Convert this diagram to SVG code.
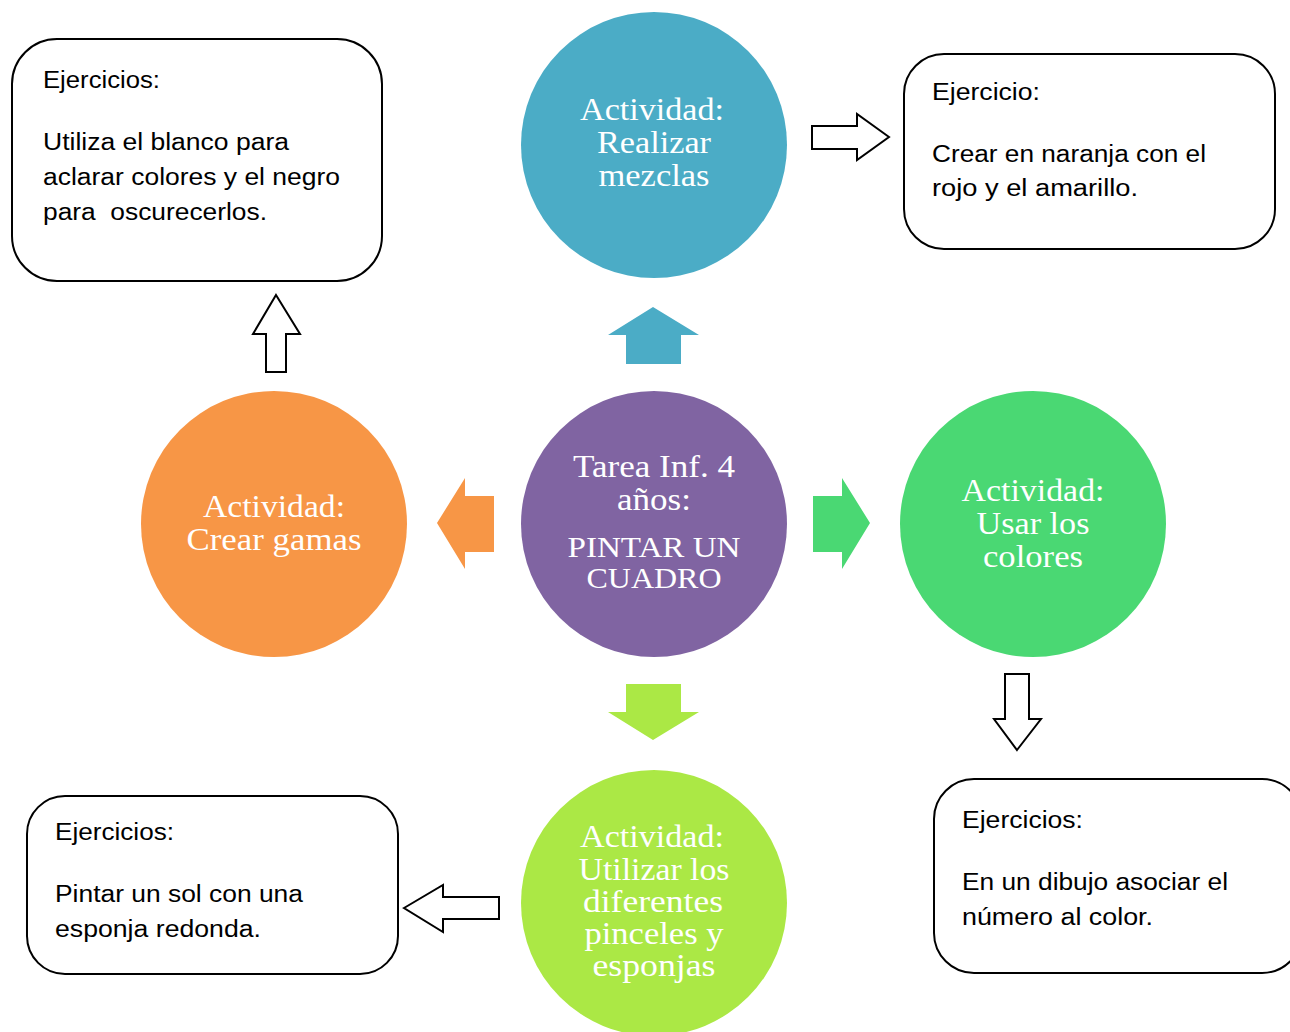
<svg xmlns="http://www.w3.org/2000/svg" width="1290" height="1032" viewBox="0 0 1290 1032">
<style>
.box{fill:#fff;stroke:#000;stroke-width:2}
.bt{font-family:"Liberation Sans",Arial,sans-serif;font-size:23.5px;fill:#000}
.ct{font-family:"Liberation Serif","Times New Roman",serif;font-size:31px;fill:#fff;text-anchor:middle}
.cs{font-size:29px}
.oa{fill:#fff;stroke:#000;stroke-width:2;stroke-linejoin:miter}
</style>
<rect width="1290" height="1032" fill="#fff"/>
<g id="connectors">
<polygon points="653,307 699,335 681,335 681,364 626,364 626,335 608,335" fill="#4BACC6"/>
<polygon points="437,523 465,478 465,496 494,496 494,552 465,552 465,569" fill="#F79646"/>
<polygon points="870,523 842,478 842,496 813,496 813,552 842,552 842,569" fill="#4AD873"/>
<polygon points="653,740 699,712 681,712 681,684 626,684 626,712 608,712" fill="#ABE845"/>
<polygon class="oa" points="276,295 300,334 286,334 286,372 266,372 266,334 253,334"/>
<polygon class="oa" points="889,137 857,114 857,126 812,126 812,149 857,149 857,160"/>
<polygon class="oa" points="1017,750 1041,719 1029,719 1029,674 1005,674 1005,719 994,719"/>
<polygon class="oa" points="404,908 443,885 443,897 499,897 499,919 443,919 443,932"/>
</g>
<g id="center">
<circle cx="654" cy="524" r="133" fill="#8064A2"/>
<text class="ct" x="654" y="477" textLength="162" lengthAdjust="spacingAndGlyphs">Tarea Inf. 4</text>
<text class="ct" x="654" y="510" textLength="74" lengthAdjust="spacingAndGlyphs">años:</text>
<text class="ct cs" x="654" y="557" textLength="173" lengthAdjust="spacingAndGlyphs">PINTAR UN</text>
<text class="ct cs" x="654" y="588" textLength="135" lengthAdjust="spacingAndGlyphs">CUADRO</text>
</g>
<g id="top">
<circle cx="654" cy="145" r="133" fill="#4BACC6"/>
<text class="ct" x="652" y="120" textLength="144" lengthAdjust="spacingAndGlyphs">Actividad:</text>
<text class="ct" x="654" y="153" textLength="114" lengthAdjust="spacingAndGlyphs">Realizar</text>
<text class="ct" x="654" y="186" textLength="111" lengthAdjust="spacingAndGlyphs">mezclas</text>
</g>
<g id="left">
<circle cx="274" cy="524" r="133" fill="#F79646"/>
<text class="ct" x="274" y="517" textLength="142" lengthAdjust="spacingAndGlyphs">Actividad:</text>
<text class="ct" x="274" y="550" textLength="175" lengthAdjust="spacingAndGlyphs">Crear gamas</text>
</g>
<g id="right">
<circle cx="1033" cy="524" r="133" fill="#4AD873"/>
<text class="ct" x="1033" y="501" textLength="143" lengthAdjust="spacingAndGlyphs">Actividad:</text>
<text class="ct" x="1033" y="534" textLength="113" lengthAdjust="spacingAndGlyphs">Usar los</text>
<text class="ct" x="1033" y="567" textLength="100" lengthAdjust="spacingAndGlyphs">colores</text>
</g>
<g id="bottom">
<circle cx="654" cy="903" r="133" fill="#ABE845"/>
<text class="ct" x="652" y="847" textLength="144" lengthAdjust="spacingAndGlyphs">Actividad:</text>
<text class="ct" x="654" y="880" textLength="151" lengthAdjust="spacingAndGlyphs">Utilizar los</text>
<text class="ct" x="653" y="912" textLength="140" lengthAdjust="spacingAndGlyphs">diferentes</text>
<text class="ct" x="654" y="944" textLength="139" lengthAdjust="spacingAndGlyphs">pinceles y</text>
<text class="ct" x="654" y="976" textLength="123" lengthAdjust="spacingAndGlyphs">esponjas</text>
</g>
<g id="box-topleft">
<rect class="box" x="12" y="39" width="370" height="242" rx="45"/>
<text class="bt" x="43" y="88" textLength="117" lengthAdjust="spacingAndGlyphs">Ejercicios:</text>
<text class="bt" x="43" y="150" textLength="246" lengthAdjust="spacingAndGlyphs">Utiliza el blanco para</text>
<text class="bt" x="43" y="185" textLength="297" lengthAdjust="spacingAndGlyphs">aclarar colores y el negro</text>
<text class="bt" x="43" y="220" textLength="224" lengthAdjust="spacingAndGlyphs" xml:space="preserve">para  oscurecerlos.</text>
</g>
<g id="box-topright">
<rect class="box" x="904" y="54" width="371" height="195" rx="40"/>
<text class="bt" x="932" y="100" textLength="108" lengthAdjust="spacingAndGlyphs">Ejercicio:</text>
<text class="bt" x="932" y="162" textLength="274" lengthAdjust="spacingAndGlyphs">Crear en naranja con el</text>
<text class="bt" x="932" y="196" textLength="206" lengthAdjust="spacingAndGlyphs">rojo y el amarillo.</text>
</g>
<g id="box-bottomleft">
<rect class="box" x="27" y="796" width="371" height="178" rx="38"/>
<text class="bt" x="55" y="840" textLength="119" lengthAdjust="spacingAndGlyphs">Ejercicios:</text>
<text class="bt" x="55" y="902" textLength="248" lengthAdjust="spacingAndGlyphs">Pintar un sol con una</text>
<text class="bt" x="55" y="937" textLength="206" lengthAdjust="spacingAndGlyphs">esponja redonda.</text>
</g>
<g id="box-bottomright">
<rect class="box" x="934" y="779" width="368" height="194" rx="40"/>
<text class="bt" x="962" y="828" textLength="121" lengthAdjust="spacingAndGlyphs">Ejercicios:</text>
<text class="bt" x="962" y="890" textLength="266" lengthAdjust="spacingAndGlyphs">En un dibujo asociar el</text>
<text class="bt" x="962" y="925" textLength="191" lengthAdjust="spacingAndGlyphs">número al color.</text>
</g>
</svg>
